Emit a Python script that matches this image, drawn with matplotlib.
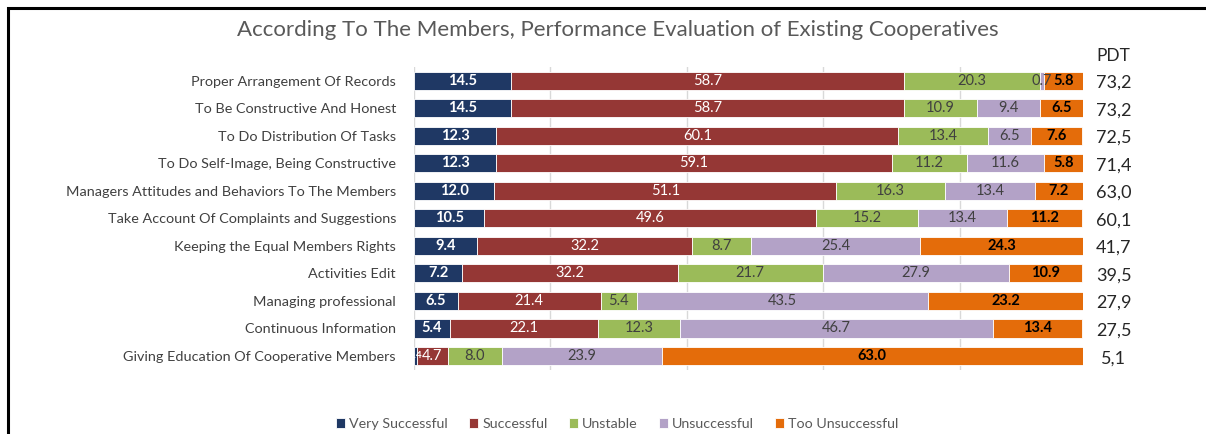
import matplotlib.pyplot as plt
import numpy as np
from matplotlib.patches import Rectangle

plt.rcParams['font.family'] = ['Lato', 'DejaVu Sans']

# data (percent)
items = ["Proper Arrangement Of Records", "To Be Constructive And Honest",
         "To Do Distribution Of Tasks", "To Do Self-Image, Being Constructive",
         "Managers Attitudes and Behaviors To The Members",
         "Take Account Of Complaints and Suggestions",
         "Keeping the Equal Members Rights", "Activities Edit",
         "Managing professional", "Continuous Information",
         "Giving Education Of Cooperative Members"]
very_successful = [14.5, 14.5, 12.3, 12.3, 12.0, 10.5, 9.4, 7.2, 6.5, 5.4, 0.4]
successful = [58.7, 58.7, 60.1, 59.1, 51.1, 49.6, 32.2, 32.2, 21.4, 22.1, 4.7]
unstable = [20.3, 10.9, 13.4, 11.2, 16.3, 15.2, 8.7, 21.7, 5.4, 12.3, 8.0]
unsuccessful = [0.7, 9.4, 6.5, 11.6, 13.4, 13.4, 25.4, 27.9, 43.5, 46.7, 23.9]
too_unsuccessful = [5.8, 6.5, 7.6, 5.8, 7.2, 11.2, 24.3, 10.9, 23.2, 13.4, 63.0]
pdt = ["73,2", "73,2", "72,5", "71,4", "63,0", "60,1", "41,7", "39,5", "27,9", "27,5", "5,1"]

series = [("Very Successful", very_successful, "#1f3864", "white", "bold"),
          ("Successful", successful, "#953735", "white", "normal"),
          ("Unstable", unstable, "#9bbb59", "#404040", "normal"),
          ("Unsuccessful", unsuccessful, "#b3a2c7", "#404040", "normal"),
          ("Too Unsuccessful", too_unsuccessful, "#e46c0a", "black", "bold")]

fig = plt.figure(figsize=(12.06, 4.34), dpi=100)
ax = fig.add_axes([0.3433, 0.148, 0.5547, 0.698])

y = np.arange(len(items))
left = np.zeros(len(items))
for name, vals, col, tcol, tw in series:
    vals = np.array(vals)
    ax.barh(y, vals, left=left, height=0.66, color=col, label=name,
            edgecolor='white', linewidth=0.6, zorder=3)
    for yi, (l, v) in enumerate(zip(left, vals)):
        fs = 10.5 if v >= 0.5 else 7
        ax.text(l + v / 2, yi, f"{v:.1f}", ha='center', va='center',
                color=tcol, fontsize=fs, fontweight=tw, zorder=4)
    left += vals

ax.set_xlim(0, 100)
ax.set_ylim(len(items) - 0.5, -0.5)
ax.set_yticks(y)
ax.set_yticklabels(items, fontsize=10.4, color='#404040')
# the source chart's gridlines sit a little wider than 20 %
ax.set_xticks(np.arange(0, 100, 20.4))
ax.tick_params(axis='x', labelbottom=False, length=0)
ax.tick_params(axis='y', length=0, pad=13)
ax.grid(axis='x', color='#d9d9d9', linewidth=1, zorder=0)
for s in ax.spines.values():
    s.set_visible(False)

# PDT column
ax.text(1.045, 1.01, "PDT", transform=ax.transAxes, fontsize=12.5,
        color='#262626', ha='center', va='bottom')
for yi, v in enumerate(pdt):
    ax.text(104.6, yi + 0.08, v, fontsize=13, color='#262626', ha='center',
            va='center', clip_on=False)

fig.text(0.512, 0.93, "According To The Members, Performance Evaluation of Existing Cooperatives",
         ha='center', va='center', fontsize=16, color='#595959')

fig.legend(loc='center', bbox_to_anchor=(0.512, 0.023), ncol=5, frameon=False,
           fontsize=10.3, handlelength=0.6, handleheight=0.6, columnspacing=1.5,
           handletextpad=0.3, labelcolor='#595959')

fig.patches.append(Rectangle((8 / 1206, -0.1), 1.2, 1 - 8 / 434 + 0.1,
                             transform=fig.transFigure, fill=False,
                             edgecolor='black', linewidth=2.2))

fig.savefig("out.png", dpi=100)
